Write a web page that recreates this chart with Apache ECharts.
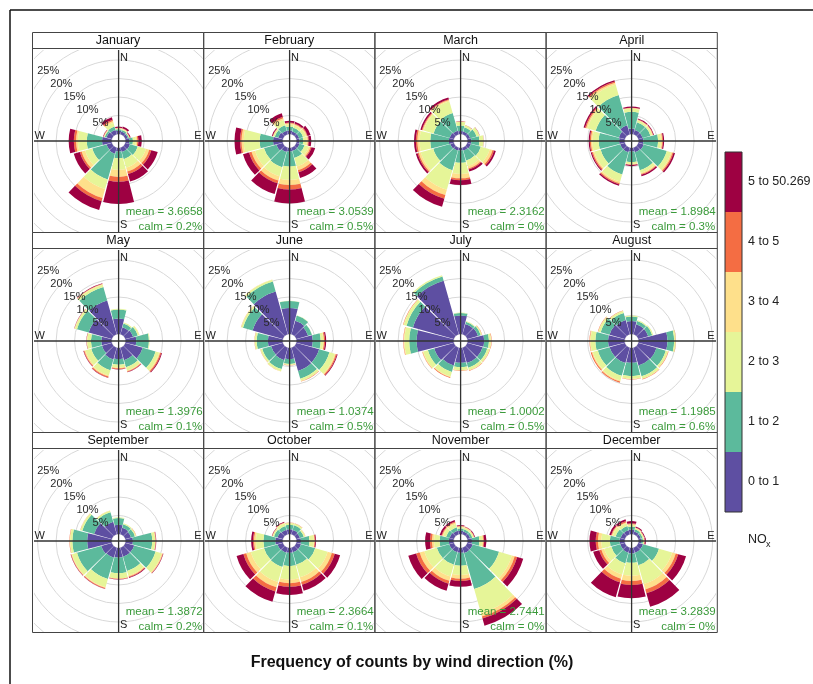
<!DOCTYPE html>
<html><head><meta charset="utf-8">
<script src="https://cdn.jsdelivr.net/npm/echarts@6/dist/echarts.min.js"></script>
<style>
html,body{margin:0;padding:0;background:#fff;width:813px;height:684px;overflow:hidden}
.pan{position:absolute;overflow:hidden}
</style>
</head><body>
<div id="bg" style="position:absolute;left:0;top:0;width:813px;height:684px"></div>
<script>
// ---------------- data ----------------
const directions = ['N','30','60','E','120','150','S','210','240','W','300','330'];
const binNames = ['0 to 1','1 to 2','2 to 3','3 to 4','4 to 5','5 to 50.269'];
const binColors = ['#5E4FA2','#5CBA9C','#E6F598','#FEE08B','#F46D43','#9E0142'];
const monthNames = ['January','February','March','April','May','June','July','August','September','October','November','December'];
const meanValues = ['3.6658','3.0539','2.3162','1.8984','1.3976','1.0374','1.0002','1.1985','1.3872','2.3664','2.7441','3.2839'];
const calmValues = ['0.2%','0.5%','0%','0.3%','0.1%','0.5%','0.5%','0.6%','0.2%','0.1%','0%','0%'];
const radialTicks = [5,10,15,20,25];

// rows = wind direction (N, 30, 60, E, ... 330), columns = NOx bins (%)
const JAN = [
 [0.9,0.4,0.2,0.1,0.1,0.3],[0.8,0.4,0.3,0.1,0.1,0.5],[0.7,0.3,0.1,0.1,0.1,0.2],[1.0,1.0,0.8,0.4,0.3,0.9],
 [1.3,2.2,2.3,0.9,0.6,1.8],[1.2,2.0,2.4,1.1,0.7,2.1],[1.0,1.8,3.1,1.9,1.3,6.0],[1.7,7.2,2.7,2.5,0.9,2.5],
 [1.5,4.0,2.0,1.0,0.5,1.7],[2.6,4.1,2.4,0.5,0.6,1.4],[1.5,0.5,0.2,0.1,0.1,0.1],[1.2,1.0,1.0,0.5,0.4,0.7]];
const FEB = [
 [1.0,1.0,0.6,0.3,0.2,0.5],[0.8,1.0,0.7,0.3,0.2,0.5],[0.8,1.1,0.8,0.3,0.2,0.8],[0.8,1.0,0.9,0.4,0.2,0.7],
 [0.9,1.4,1.2,0.5,0.3,1.0],[0.9,2.0,2.4,1.0,0.6,1.6],[1.0,4.0,3.6,1.4,1.2,3.8],[1.2,4.3,2.5,1.2,0.8,3.0],
 [1.8,3.5,2.5,1.0,0.7,1.7],[2.6,3.6,4.3,0.6,0.4,1.5],[1.3,1.0,0.4,0.1,0.1,0.2],[1.0,1.5,1.5,0.5,0.4,1.0]];
const MAR = [
 [0.8,1.5,1.0,0.1,0.05,0.05],[0.8,1.2,0.5,0.05,0.02,0.03],[0.8,1.8,0.8,0.05,0.02,0.03],[1.0,2.2,1.1,0.05,0.02,0.03],
 [1.0,2.8,2.5,0.8,0.4,0.5],[0.8,2.8,1.6,0.6,0.3,0.6],[0.7,3.3,3.0,1.2,0.5,1.3],[0.8,5.5,5.5,1.5,1.0,2.3],
 [1.0,4.8,3.5,0.6,0.3,0.5],[1.3,5.0,2.9,0.6,0.4,0.5],[1.2,4.5,2.8,0.3,0.2,0.4],[1.0,5.0,3.3,0.3,0.2,0.5]];
const APR = [
 [1.5,4.5,0.8,0.2,0.1,0.3],[1.2,2.2,0.5,0.2,0.1,0.2],[1.2,2.2,0.5,0.2,0.1,0.2],[1.3,4.0,0.8,0.3,0.2,0.3],
 [1.5,6.5,1.2,0.4,0.3,0.4],[1.3,5.0,0.8,0.3,0.2,0.4],[1.0,2.8,0.5,0.2,0.1,0.3],[1.3,6.2,2.0,0.5,0.3,0.4],
 [1.3,5.5,1.8,0.4,0.3,0.3],[1.5,5.5,1.7,0.4,0.3,0.3],[1.7,6.5,2.3,0.4,0.3,0.4],[2.5,8.5,3.0,0.5,0.3,0.4]];
const MAY = [
 [4.2,2.4,0.2,0,0,0],[2.0,1.0,0.3,0,0,0],[2.2,1.3,0.4,0.1,0,0],[2.9,3.4,0.2,0,0,0],
 [4.9,3.6,1.0,0.3,0.3,0.2],[3.5,2.0,0.9,0.2,0.2,0.1],[3.0,1.5,0.8,0.2,0.2,0.1],[3.3,3.0,1.5,0.3,0.3,0.1],
 [2.8,3.0,1.6,0.3,0.2,0.1],[2.8,2.8,1.0,0.1,0.05,0.05],[6.5,3.3,0.6,0.1,0.05,0.05],[9.5,3.8,0.6,0.2,0.1,0.1]];
const JUN = [
 [7.0,1.9,0.05,0,0,0],[3.8,1.5,0.05,0,0,0],[3.3,1.1,0.05,0,0,0],[4.4,2.1,0.7,0.2,0.3,0.3],
 [6.4,2.9,1.5,0.3,0.3,0.2],[6.5,2.2,0.6,0.1,0.1,0],[3.0,1.3,0.3,0.05,0.05,0],[3.5,2.5,0.6,0.05,0.05,0],
 [3.3,2.5,0.5,0.05,0.05,0],[4.0,3.0,0.5,0.05,0.05,0],[8.5,2.7,0.5,0.05,0.05,0],[12.0,2.8,0.5,0.05,0.05,0]];
const JUL = [
 [5.0,0.7,0.1,0,0,0],[2.9,0.6,0.2,0,0,0],[3.0,0.8,0.3,0.05,0.05,0],[4.5,1.3,0.5,0.1,0.1,0],
 [4.3,1.3,0.6,0.1,0.1,0],[4.3,1.3,0.7,0.1,0.1,0],[4.0,1.2,0.8,0.1,0.1,0],[5.0,1.8,1.3,0.2,0.2,0],
 [5.5,1.8,1.3,0.2,0.1,0],[10.0,2.0,1.3,0.2,0.1,0],[11.5,1.8,0.8,0.1,0.1,0],[15.0,1.2,0.4,0,0,0]];
const AUG = [
 [3.5,1.2,0.3,0,0,0],[2.8,0.9,0.3,0,0,0],[2.8,1.1,0.3,0,0,0],[7.8,1.8,0.4,0.05,0.05,0],
 [5.1,2.6,0.6,0.1,0.1,0],[5.0,3.0,0.7,0.1,0.1,0],[4.0,3.6,0.7,0.1,0.1,0],[4.3,3.6,1.3,0.3,0.3,0],
 [4.3,3.3,1.4,0.3,0.3,0],[4.5,3.4,1.3,0.2,0.1,0],[4.3,2.5,0.6,0.1,0.1,0],[4.0,2.0,0.5,0.1,0.1,0]];
const SEP = [
 [2.5,1.8,0.2,0,0,0],[1.8,1.0,0.3,0,0,0],[1.6,1.1,0.3,0.05,0.05,0],[2.0,5.2,0.8,0.1,0.1,0.1],
 [2.5,6.0,1.7,0.3,0.1,0.1],[2.5,4.0,1.3,0.3,0.2,0.2],[2.6,4.2,1.4,0.1,0.1,0.1],[2.8,6.0,2.3,0.2,0.2,0.1],
 [3.0,6.8,1.4,0.2,0.1,0.1],[6.6,4.0,0.6,0.1,0.1,0],[5.0,3.3,0.5,0.05,0.05,0],[3.5,2.7,0.4,0.05,0.05,0]];
const OCT = [
 [1.3,1.2,0.5,0.05,0.05,0],[1.2,1.3,0.5,0.05,0.05,0],[1.0,1.1,0.4,0.05,0.05,0],[1.2,2.3,1.2,0.2,0.2,0.2],
 [1.3,4.0,3.5,1.2,0.8,1.5],[1.3,3.5,3.5,1.3,0.8,1.7],[1.3,3.6,3.6,1.0,1.0,2.2],[1.4,4.0,4.2,1.5,1.2,2.9],
 [1.5,3.8,3.7,1.3,0.8,1.9],[2.0,3.2,2.0,0.5,0.3,0.5],[1.5,1.0,0.4,0.05,0.05,0.1],[1.3,1.0,0.7,0.2,0.1,0.2]];
const NOV = [
 [0.9,0.6,0.4,0.2,0.1,0.2],[0.8,0.6,0.4,0.2,0.1,0.1],[0.8,0.6,0.4,0.1,0.1,0.2],[1.2,2.0,0.8,0.3,0.2,0.6],
 [1.5,7.4,3.6,0.8,0.7,1.7],[1.5,10.1,6.8,0.9,0.6,2.0],[1.3,3.5,2.5,1.0,0.6,1.6],[1.3,3.5,3.3,1.2,0.8,2.0],
 [1.3,3.5,3.5,1.3,1.0,2.2],[1.3,2.5,1.5,0.6,0.5,1.3],[1.2,1.0,0.8,0.3,0.2,0.5],[1.0,1.0,0.9,0.4,0.3,0.4]];
const DEC = [
 [1.2,0.8,0.5,0.2,0.2,0.6],[0.8,0.6,0.3,0.1,0.1,0.3],[0.7,0.5,0.3,0.1,0.1,0.2],[0.7,0.5,0.3,0.1,0.1,0.3],
 [1.3,4.5,3.7,1.0,0.7,2.2],[1.4,3.5,5.3,1.5,1.1,3.8],[1.5,2.5,3.5,1.4,1.1,3.6],[1.4,3.0,3.1,1.2,1.0,4.2],
 [1.3,2.5,2.0,0.8,0.6,1.7],[1.4,2.6,2.3,0.9,0.6,1.7],[1.2,1.4,0.8,0.3,0.2,0.5],[1.1,1.2,0.8,0.3,0.3,0.5]];
const monthData = [JAN,FEB,MAR,APR,MAY,JUN,JUL,AUG,SEP,OCT,NOV,DEC];

// ---------------- layout ----------------
const FONT = '"Liberation Sans", Arial, sans-serif';
const L0 = 32.5, COLW = 171.2, T0 = 32.5, ROWH = 200, HEADH = 16, BODYH = 184;
const R0 = 7, PXPCT = 3.7, RMAX = 35;

// background chart: frame, panel boxes, headers, colour key, title
const bg = echarts.init(document.getElementById('bg'), null, {renderer:'canvas'});
const g = [];
g.push({type:'line', shape:{x1:10,y1:10,x2:813,y2:10}, style:{stroke:'#111',lineWidth:1.5}});
g.push({type:'line', shape:{x1:10,y1:10,x2:10,y2:684}, style:{stroke:'#111',lineWidth:1.5}});
for (let i = 0; i < 12; i++) {
  const c = i % 4, r = Math.floor(i / 4);
  const x = L0 + c * COLW, y = T0 + r * ROWH;
  g.push({type:'rect', shape:{x:x, y:y, width:COLW, height:ROWH}, style:{fill:'none', stroke:'#444', lineWidth:1}});
  g.push({type:'line', shape:{x1:x, y1:y+HEADH, x2:x+COLW, y2:y+HEADH}, style:{stroke:'#444', lineWidth:1}});
  g.push({type:'text', x:x+COLW/2, y:y+HEADH/2+0.5, style:{text:monthNames[i], font:'12.5px '+FONT, fill:'#111',
    align:'center', verticalAlign:'middle', textAlign:'center', textVerticalAlign:'middle'}});
}
// colour key
const KX = 725, KY = 152, KW = 17, KH = 60;
for (let k = 0; k < 6; k++) {
  const b = 5 - k;
  g.push({type:'rect', shape:{x:KX, y:KY+k*KH, width:KW, height:KH}, style:{fill:binColors[b], stroke:null}});
  g.push({type:'text', x:748, y:KY+k*KH+KH/2, style:{text:binNames[b], font:'12.5px '+FONT, fill:'#222',
    align:'left', verticalAlign:'middle', textAlign:'left', textVerticalAlign:'middle'}});
}
g.push({type:'rect', shape:{x:KX, y:KY, width:KW, height:6*KH}, style:{fill:'none', stroke:'#333', lineWidth:1}});
g.push({type:'text', x:748, y:540, style:{text:'NO', font:'12.5px '+FONT, fill:'#222', align:'left', verticalAlign:'middle', textAlign:'left', textVerticalAlign:'middle'}});
g.push({type:'text', x:766, y:545, style:{text:'x', font:'9px '+FONT, fill:'#222', align:'left', verticalAlign:'middle', textAlign:'left', textVerticalAlign:'middle'}});
g.push({type:'text', x:412, y:663, style:{text:'Frequency of counts by wind direction (%)', font:'bold 16px '+FONT, fill:'#111',
  align:'center', verticalAlign:'middle', textAlign:'center', textVerticalAlign:'middle'}});
bg.setOption({animation:false, graphic:{elements:g}});

// one wind rose per month
for (let i = 0; i < 12; i++) {
  const c = i % 4, r = Math.floor(i / 4);
  const x = L0 + c * COLW + 1, y = T0 + r * ROWH + HEADH + 1;
  const W = COLW - 2, H = BODYH - 2;
  const div = document.createElement('div');
  div.className = 'pan';
  div.style.left = x + 'px'; div.style.top = y + 'px';
  div.style.width = W + 'px'; div.style.height = H + 'px';
  document.body.appendChild(div);
  const ch = echarts.init(div, null, {renderer:'canvas'});
  const CX = W / 2, CY = H / 2;
  const d = monthData[i];
  const series = binNames.map((name, b) => ({
    type:'bar', coordinateSystem:'polar', polarIndex:0, stack:'rose', name:name,
    data: d.map(row => row[b]), barCategoryGap:'5%', silent:true, z:2,
    itemStyle:{color:binColors[b]}
  }));
  const txt = (t, px, py, al, va, col, size) => ({type:'text', x:px, y:py, z:100,
    style:{text:t, font:size+'px '+FONT, fill:col, align:al, verticalAlign:va, textAlign:al, textVerticalAlign:va}});
  ch.setOption({
    animation:false,
    polar:[{center:[CX,CY], radius:[R0, R0+PXPCT*RMAX]}, {center:[CX,CY], radius:[R0, R0+PXPCT*RMAX]}],
    angleAxis:[
      {polarIndex:0, type:'category', data:directions, startAngle:105, clockwise:true, boundaryGap:true,
       axisLine:{show:false}, axisTick:{show:false}, axisLabel:{show:false}, splitLine:{show:false}},
      {polarIndex:1, type:'category', data:directions, startAngle:135, clockwise:true,
       axisLine:{show:false}, axisTick:{show:false}, axisLabel:{show:false}, splitLine:{show:false}}
    ],
    radiusAxis:[
      {polarIndex:0, min:0, max:RMAX, interval:5, axisLine:{show:false}, axisTick:{show:false}, axisLabel:{show:false},
       splitLine:{show:true, lineStyle:{color:'#d8d8d8', width:1}}},
      {polarIndex:1, min:0, max:RMAX, interval:5, z:10, axisLine:{show:false}, axisTick:{show:false}, splitLine:{show:false},
       axisLabel:{show:true, margin:0, color:'#2a2a2a', fontSize:11, fontFamily:'Liberation Sans',
         align:'center', verticalAlign:'middle',
         formatter: v => radialTicks.indexOf(v) >= 0 ? v + '%' : ''}}
    ],
    series: series,
    graphic:{elements:[
      {type:'line', z:90, shape:{x1:CX, y1:0, x2:CX, y2:H}, style:{stroke:'#333', lineWidth:1.3}},
      {type:'line', z:90, shape:{x1:0, y1:CY, x2:W, y2:CY}, style:{stroke:'#333', lineWidth:1.3}},
      txt('N', CX+1.5, 8, 'left', 'middle', '#222', 11),
      txt('S', CX+1.5, H-7, 'left', 'middle', '#222', 11),
      txt('W', 0.5, CY-5, 'left', 'middle', '#222', 11),
      txt('E', W-1.5, CY-5, 'right', 'middle', '#222', 11),
      txt('mean = ' + meanValues[i], W-0.5, H-20, 'right', 'middle', '#3a9a3a', 11.5),
      txt('calm = ' + calmValues[i], W-1, H-5, 'right', 'middle', '#3a9a3a', 11.5)
    ]}
  });
}
</script>
</body></html>
